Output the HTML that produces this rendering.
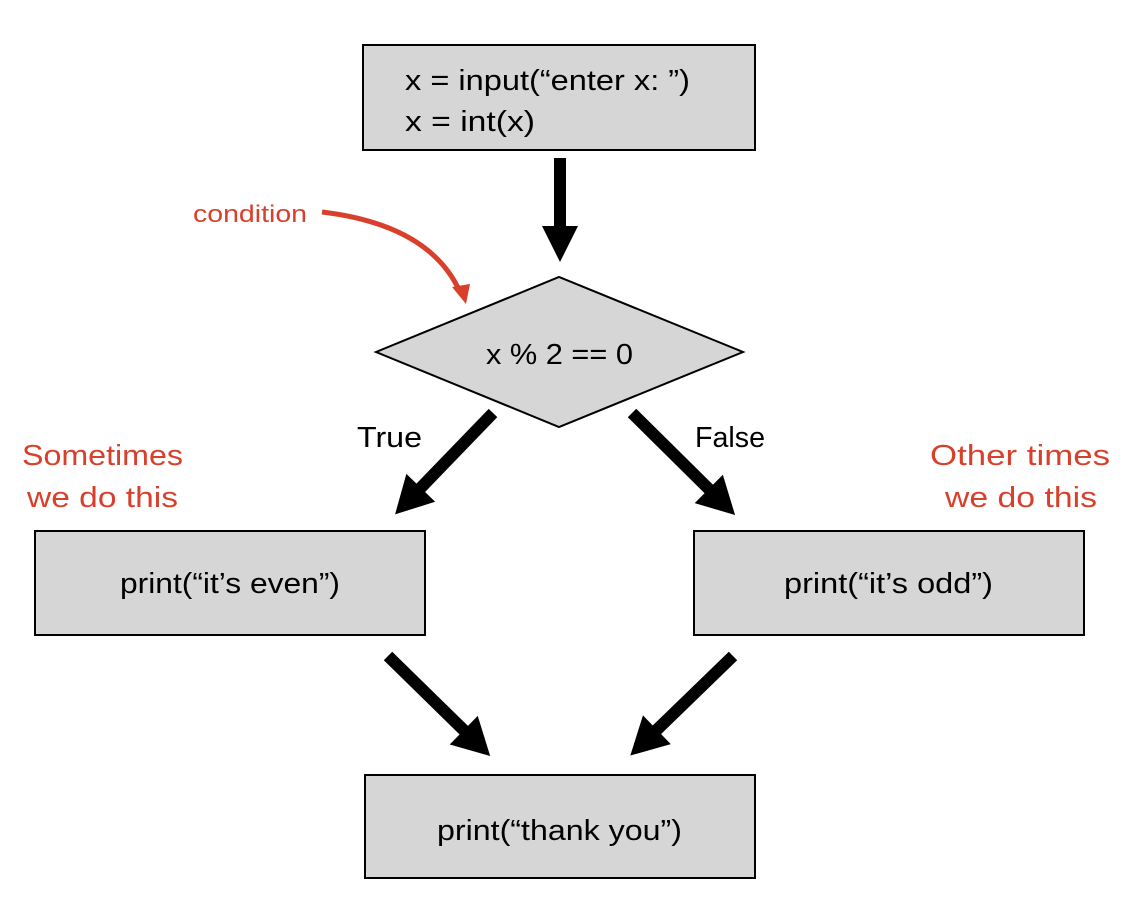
<!DOCTYPE html>
<html><head><meta charset="utf-8"><style>
html,body{margin:0;padding:0;background:#fff;}
svg{display:block;}
text{font-family:"Liberation Sans",sans-serif;font-size:29px;}
.r{fill:#d9402b;}
</style></head><body>
<svg width="1136" height="906" viewBox="0 0 1136 906" xmlns="http://www.w3.org/2000/svg">
<g fill="#d6d6d6" stroke="#000" stroke-width="2">
<rect x="363" y="45" width="392" height="105"/>
<polygon points="376,352 559,277 743,352 559,427"/>
<rect x="35" y="531" width="390" height="104"/>
<rect x="694" y="531" width="390" height="104"/>
<rect x="365" y="775" width="390" height="103"/>
</g>
<g fill="#000">
<g transform="translate(560,158) rotate(90)"><rect x="0" y="-6" width="70" height="12"/><polygon points="68,-18 104,0 68,18"/></g>
<g transform="translate(493,413) rotate(134)"><rect x="0" y="-6" width="108" height="12"/><polygon points="104,-20 141,0 104,20"/></g>
<g transform="translate(632,413) rotate(44.7)"><rect x="0" y="-6" width="112" height="12"/><polygon points="108,-20 145,0 108,20"/></g>
<g transform="translate(388,656) rotate(44.4)"><rect x="0" y="-6" width="110" height="12"/><polygon points="106,-20 143,0 106,20"/></g>
<g transform="translate(733,656) rotate(135.9)"><rect x="0" y="-6" width="110" height="12"/><polygon points="106,-20 143,0 106,20"/></g>
</g>
<path d="M322,212 Q430,225 460,292" fill="none" stroke="#d9402b" stroke-width="5"/>
<polygon points="466,304 452,287 470,284" fill="#d9402b"/>
<text x="405" y="90" textLength="285" lengthAdjust="spacingAndGlyphs">x = input(“enter x: ”)</text>
<text x="405" y="131" textLength="130" lengthAdjust="spacingAndGlyphs">x = int(x)</text>
<text x="486" y="364" textLength="147" lengthAdjust="spacingAndGlyphs">x % 2 == 0</text>
<text x="357" y="447" textLength="65" lengthAdjust="spacingAndGlyphs">True</text>
<text x="695" y="447" textLength="70" lengthAdjust="spacingAndGlyphs">False</text>
<text x="120" y="593" textLength="220" lengthAdjust="spacingAndGlyphs">print(“it’s even”)</text>
<text x="784" y="593" textLength="209" lengthAdjust="spacingAndGlyphs">print(“it’s odd”)</text>
<text x="437" y="840" textLength="245" lengthAdjust="spacingAndGlyphs">print(“thank you”)</text>
<text class="r" x="193" y="222" style="font-size:24px" textLength="114" lengthAdjust="spacingAndGlyphs">condition</text>
<text class="r" x="22" y="465" textLength="161" lengthAdjust="spacingAndGlyphs">Sometimes</text>
<text class="r" x="27" y="507" textLength="151" lengthAdjust="spacingAndGlyphs">we do this</text>
<text class="r" x="930" y="465" textLength="180" lengthAdjust="spacingAndGlyphs">Other times</text>
<text class="r" x="945" y="507" textLength="152" lengthAdjust="spacingAndGlyphs">we do this</text>
</svg>
</body></html>
